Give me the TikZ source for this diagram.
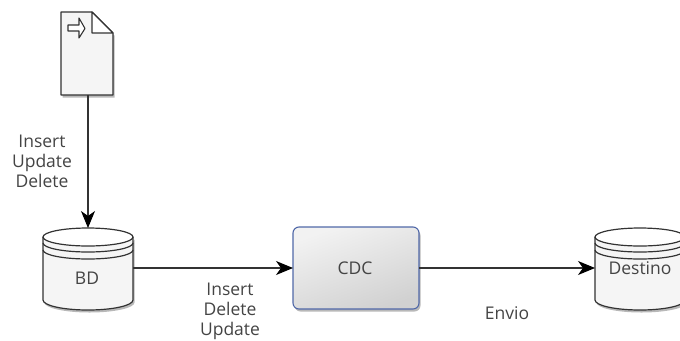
\documentclass[tikz,border=0pt]{standalone}
\usepackage{fontspec}
\setmainfont{Open Sans}
\usetikzlibrary{arrows.meta,shadows,calc}
\definecolor{ink}{HTML}{333333}
\definecolor{txt}{HTML}{444444}
\definecolor{cdcedge}{HTML}{5068A8}
\tikzset{
  x=1bp,y=-1bp,
  anchorbox/.style={inner sep=0pt,outer sep=0pt},
  lbl/.style={font=\fontsize{17.5bp}{20bp}\selectfont,text=txt,align=center,inner sep=0pt},
  flow/.style={draw=ink,line width=1.1bp,-{Stealth[length=17bp,width=14bp,inset=5bp,color=black]}},
  softshadow/.style={drop shadow={shadow xshift=1.5bp,shadow yshift=-2.5bp,opacity=.28,fill=black}},
  dbline/.style={draw=ink,line width=1.2bp},
}
\newcommand{\dbshape}[1]{%
  \path[fill=white!96!black,softshadow] (#1-45,237) -- (#1-45,300) arc[start angle=180,end angle=0,x radius=45,y radius=10]
     -- (#1+45,237) arc[start angle=0,end angle=180,x radius=45,y radius=9] -- cycle;
  \draw[dbline] (#1-45,237) -- (#1-45,300) arc[start angle=180,end angle=0,x radius=45,y radius=10]
     -- (#1+45,237);
  \draw[dbline] (#1,237) ellipse[x radius=45,y radius=9];
  \draw[dbline] (#1-45,243) arc[start angle=180,end angle=0,x radius=45,y radius=9];
  \draw[dbline] (#1-45,250) arc[start angle=180,end angle=0,x radius=45,y radius=9];
}
\begin{document}
\begin{tikzpicture}
\useasboundingbox (0,0) rectangle (680,340);
\clip (0,0) rectangle (680,340);
% document
\path[fill=white!96!black,softshadow] (61,12) -- (92,12) -- (113,33) -- (113,95) -- (61,95) -- cycle;
\draw[ink,line width=1.2bp,line join=round] (61,12) -- (92,12) -- (113,33) -- (113,95) -- (61,95) -- cycle;
\draw[ink,line width=1.1bp,fill=white,line join=round] (92,12) -- (92,33) -- (113,33) -- cycle;
\draw[ink,line width=1.1bp,fill=white,line join=round] (68,25) -- (79,25) -- (79,18) -- (85,28.5) -- (79,38) -- (79,31) -- (68,31) -- cycle;
\node[anchorbox,minimum width=52bp,minimum height=83bp] (doc) at (88,53.5) {};
% databases
\dbshape{88}
\node[anchorbox,minimum width=90bp,minimum height=80bp] (bd) at (88,268) {};
\node[lbl] (bdtext) at (87,278) {BD};
\dbshape{640}
\node[anchorbox,minimum width=90bp,minimum height=80bp] (dest) at (640,268) {};
\node[lbl] (desttext) at (640,268) {Destino};
% CDC
\shade[rounded corners=6bp,softshadow,shading=axis,top color=white!95!black,bottom color=white!82!black,shading angle=20]
  (293,227) rectangle (419,309);
\node[anchorbox,draw=cdcedge,line width=1.1bp,rounded corners=6bp,minimum width=126bp,minimum height=82bp] (cdc) at (356,268) {};
\node[lbl] (cdctext) at (355,268) {CDC};
% connectors
\draw[flow] (doc.south) -- (bd.north);
\draw[flow] (bd.east) -- (cdc.west);
\draw[flow] (cdc.east) -- (dest.west);
% labels
\node[lbl] (l1) at (42,161) {Insert\\Update\\Delete};
\node[lbl] (l2) at (230,311.5) {Insert\\Delete\\Update};
\node[lbl] (l3) at (507,313) {Envio};
\end{tikzpicture}
\end{document}
